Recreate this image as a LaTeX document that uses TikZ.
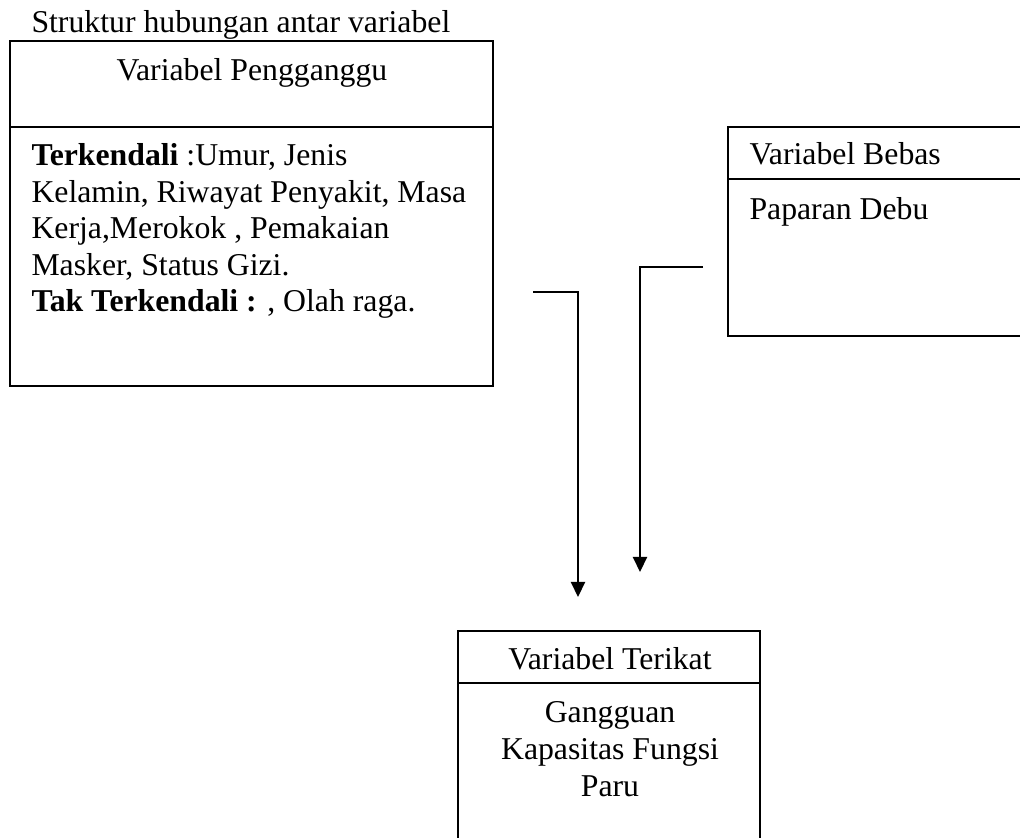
\documentclass[tikz,border=0pt]{standalone}
\usepackage{fontspec}
\setmainfont{Liberation Serif}
\usetikzlibrary{arrows.meta,positioning}

\tikzset{
    boxpart/.style={draw, line width=0.9pt, inner sep=0pt, outer sep=0pt},
    label/.style={inner sep=0pt, font=\fontsize{12.7pt}{14.65pt}\selectfont},
    conn/.style={line width=0.85pt, -{Triangle[length=6pt,width=5.6pt]}}
}

\begin{document}
\begin{tikzpicture}[x=0.4pt, y=-0.4pt]
    \useasboundingbox (0,0) rectangle (1020,838);

    % boxes
    \node[boxpart, minimum width=193.2pt, minimum height=34.4pt] (penghead) at (251.5,84) {};
    \node[boxpart, minimum width=193.2pt, minimum height=103.6pt] (pengbody) at (251.5,256.5) {};

    \node[boxpart, minimum width=120.8pt, minimum height=20.8pt] (bebashead) at (879,153) {};
    \node[boxpart, minimum width=120.8pt, minimum height=62.8pt] (bebasbody) at (879,257.5) {};

    \node[boxpart, minimum width=120.8pt, minimum height=20.8pt] (terikathead) at (609,657) {};
    \node[boxpart, minimum width=120.8pt, minimum height=70.8pt] (terikatbody) at (609,771.5) {};

    % texts
    \node[label, anchor=base west] (judul) at (31,33) {Struktur hubungan antar variabel};
    \node[label, anchor=base] (pengtitle) at (252,81) {Variabel Pengganggu};
    \node[label, anchor=base west, align=left] (pengtext) at (31,312)
        {\textbf{Terkendali} :Umur, Jenis\\
         Kelamin, Riwayat Penyakit, Masa\\
         Kerja,Merokok , Pemakaian\\
         Masker, Status Gizi.\\
         \textbf{Tak Terkendali :} , Olah raga.};

    \node[label, anchor=base west] (bebastitle) at (749,165) {Variabel Bebas};
    \node[label, anchor=base west] (bebastext) at (749,220) {Paparan Debu};

    \node[label, anchor=base] (terikattitle) at (610,669) {Variabel Terikat};
    \node[label, anchor=base, align=center] (terikattext) at (610,796)
        {Gangguan\\Kapasitas Fungsi\\Paru};

    % arrows
    \coordinate (a1s) at (533,292);
    \coordinate (a1e) at (578,597);
    \coordinate (a2s) at (703,267);
    \coordinate (a2e) at (640,572);

    \draw[conn] (a1s) -| (a1e);
    \draw[conn] (a2s) -| (a2e);
\end{tikzpicture}
\end{document}
